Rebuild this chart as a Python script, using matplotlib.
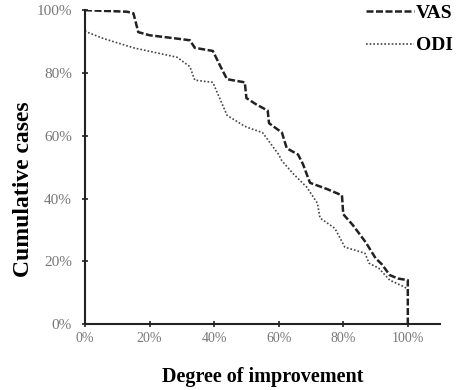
import matplotlib
matplotlib.use('Agg')
import matplotlib.pyplot as plt
import numpy as np

# degree of improvement (%) vs cumulative cases (%)
vas_x = [0, 13, 15, 16.5, 20, 28, 32.5, 34, 39.6, 42, 44, 49.5, 50, 53, 56.6, 57,
         61, 62.5, 66, 67.5, 69.7, 75, 79.6, 80, 83, 87, 90, 92, 94.4, 97, 100, 100]
vas_y = [100, 99.5, 99, 93, 92, 91, 90.4, 88, 87, 82, 78, 77, 72, 70, 68, 64,
         61, 56, 54, 51, 45, 43, 41, 35, 31.5, 26, 21, 19, 15.6, 14.5, 14, 0]

odi_x = [0, 0.6, 5.6, 15, 28.5, 32.5, 34, 39.6, 44, 49.5, 51, 55, 60, 61, 64.4,
         68.7, 72, 72.8, 77.4, 80.5, 86.7, 88, 91, 94.4, 99, 100]
odi_y = [93.5, 93, 91, 88, 85, 82, 77.7, 77, 66.5, 63, 62.4, 61, 54, 52, 48,
         43.6, 38.5, 33.8, 30.5, 24.5, 22.6, 19.4, 17.8, 14, 11.8, 11]

ticks = [0, 20, 40, 60, 80, 100]
tick_labels = ['0%', '20%', '40%', '60%', '80%', '100%']

plt.rcParams['font.family'] = ['Liberation Serif', 'DejaVu Serif']

fig = plt.figure(figsize=(4.66, 3.9), dpi=100)
ax = fig.add_axes([0.1824, 0.169, 0.762, 0.805])

ax.plot(odi_x, odi_y, color='#444444', linestyle=(0, (1, 1.2)), linewidth=1.2, label='ODI')
ax.plot(vas_x, vas_y, color='#222222', linestyle=(0, (2.8, 1.0)), linewidth=1.8, label='VAS')

ax.set_xlim(0, 110)
ax.set_ylim(0, 100)
ax.set_xticks(ticks)
ax.set_xticklabels(tick_labels)
ax.set_yticks(ticks)
ax.set_yticklabels(tick_labels)
ax.tick_params(direction='inout', length=5, width=1.2,
               labelcolor='#777777', color='#222222')
ax.tick_params(axis='x', labelsize=10, pad=3)
ax.tick_params(axis='y', labelsize=11, pad=7)
for side in ['top', 'right']:
    ax.spines[side].set_visible(False)
for side in ['left', 'bottom']:
    ax.spines[side].set_linewidth(1.5)
    ax.spines[side].set_color('#222222')

ax.set_xlabel('Degree of improvement', fontsize=14.5, fontweight='bold', labelpad=16)
ax.set_ylabel('Cumulative cases', fontsize=17, fontweight='bold')
ax.yaxis.set_label_coords(-0.145, 0.43)

handles, labels = ax.get_legend_handles_labels()
leg = fig.legend(handles[::-1], labels[::-1], loc='upper right',
                 bbox_to_anchor=(0.972, 0.988), frameon=False, handlelength=2.5,
                 handletextpad=0.1, labelspacing=0.75, borderpad=0,
                 borderaxespad=0, prop={'weight': 'bold', 'size': 14})

fig.savefig('out.png', dpi=100)
